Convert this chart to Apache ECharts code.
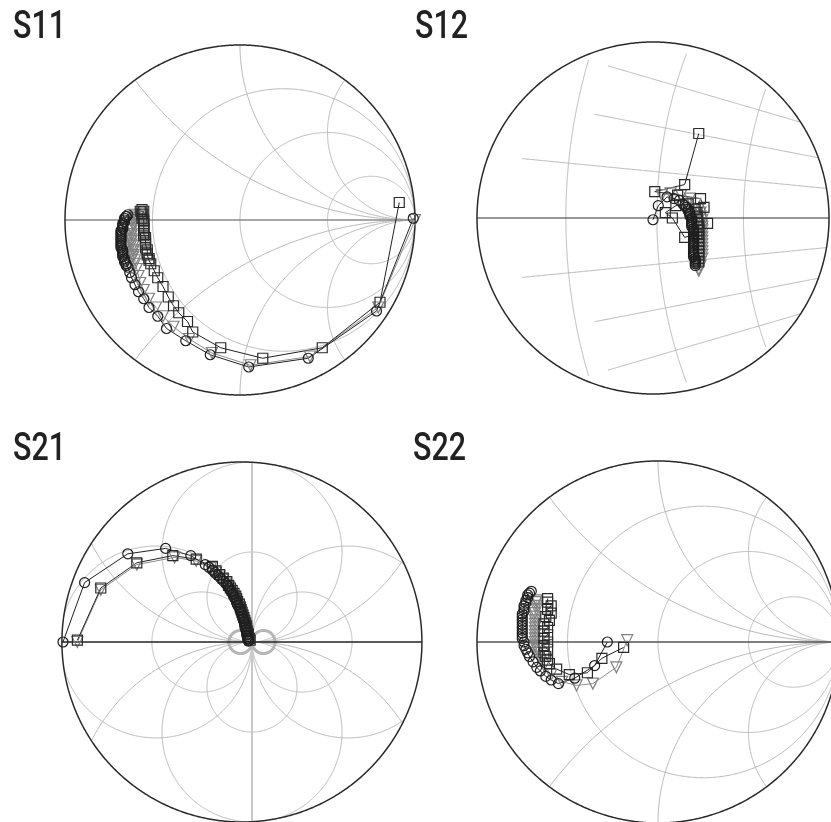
<!DOCTYPE html>
<html><head><meta charset="utf-8">
<script src="https://cdn.jsdelivr.net/npm/echarts@6/dist/echarts.min.js"></script>
<style>html,body{margin:0;padding:0;background:#fff}#c{width:831px;height:822px}</style>
</head><body><div id="c"></div>
<script>
// ---------------- DATA (normalised coefficients, [re, im]) ----------------
const S11_circ = [[0.99,0.01],[0.78,-0.52],[0.39,-0.79],[0.05,-0.84],[-0.17,-0.77],[-0.31,-0.69],[-0.42,-0.62],[-0.47,-0.55],[-0.52,-0.50],[-0.55,-0.45],[-0.58,-0.41],[-0.60,-0.37],[-0.62,-0.33],[-0.63,-0.30],[-0.64,-0.27],[-0.65,-0.26],[-0.65,-0.25],[-0.66,-0.24],[-0.66,-0.23],[-0.66,-0.22],[-0.67,-0.21],[-0.67,-0.20],[-0.67,-0.19],[-0.67,-0.18],[-0.67,-0.17],[-0.68,-0.16],[-0.68,-0.15],[-0.68,-0.14],[-0.68,-0.13],[-0.68,-0.12],[-0.68,-0.11],[-0.68,-0.10],[-0.68,-0.09],[-0.68,-0.08],[-0.68,-0.07],[-0.68,-0.06],[-0.67,-0.05],[-0.67,-0.04],[-0.67,-0.03],[-0.67,-0.02],[-0.66,-0.01],[-0.66,0.00],[-0.66,0.01],[-0.65,0.02],[-0.65,0.02],[-0.64,0.03]];
const S11_sq = [[0.91,0.10],[0.80,-0.47],[0.47,-0.73],[0.13,-0.79],[-0.11,-0.73],[-0.27,-0.64],[-0.30,-0.58],[-0.35,-0.53],[-0.38,-0.49],[-0.41,-0.44],[-0.44,-0.38],[-0.47,-0.33],[-0.49,-0.29],[-0.51,-0.25],[-0.52,-0.23],[-0.52,-0.22],[-0.53,-0.20],[-0.53,-0.19],[-0.53,-0.17],[-0.54,-0.16],[-0.54,-0.14],[-0.54,-0.13],[-0.54,-0.12],[-0.54,-0.10],[-0.55,-0.09],[-0.55,-0.08],[-0.55,-0.06],[-0.55,-0.05],[-0.55,-0.04],[-0.55,-0.02],[-0.55,-0.01],[-0.55,0.00],[-0.56,0.01],[-0.56,0.03],[-0.56,0.04],[-0.55,0.05],[-0.56,0.06],[-0.57,0.05]];
const S11_tri = [[1.0,0.0],[0.79,-0.50],[0.40,-0.78],[0.06,-0.83],[-0.16,-0.76],[-0.29,-0.68],[-0.38,-0.61],[-0.44,-0.55],[-0.48,-0.50],[-0.52,-0.45],[-0.55,-0.40],[-0.57,-0.36],[-0.58,-0.32],[-0.59,-0.28],[-0.60,-0.25],[-0.60,-0.23],[-0.61,-0.21],[-0.61,-0.20],[-0.61,-0.18],[-0.61,-0.17],[-0.61,-0.15],[-0.62,-0.14],[-0.62,-0.12],[-0.62,-0.11],[-0.62,-0.09],[-0.62,-0.08],[-0.62,-0.06],[-0.62,-0.05],[-0.61,-0.03],[-0.61,-0.02],[-0.61,0.00],[-0.61,0.01],[-0.60,0.02],[-0.60,0.03]];

const S12_circ = [[0.00,-0.01],[0.03,0.07],[0.08,0.12],[0.12,0.11],[0.15,0.10],[0.17,0.08],[0.18,0.07],[0.19,0.06],[0.20,0.05],[0.20,0.04],[0.21,0.03],[0.21,0.02],[0.21,0.01],[0.22,0.00],[0.22,-0.01],[0.22,-0.02],[0.22,-0.03],[0.22,-0.04],[0.22,-0.05],[0.23,-0.06],[0.23,-0.07],[0.23,-0.08],[0.23,-0.09],[0.23,-0.10],[0.23,-0.11],[0.23,-0.12],[0.23,-0.13],[0.23,-0.14],[0.23,-0.15],[0.23,-0.16],[0.23,-0.17],[0.23,-0.18],[0.23,-0.19],[0.23,-0.20],[0.23,-0.21],[0.23,-0.22],[0.24,-0.23],[0.24,-0.24],[0.24,-0.25],[0.24,-0.26],[0.24,-0.27]];
const S12_sq = [[0.26,0.48],[0.18,0.19],[0.01,0.15],[0.14,0.13],[0.27,0.11],[0.29,0.06],[0.31,-0.03],[0.25,-0.09],[0.18,-0.11],[0.11,0.00],[0.07,0.03],[0.13,0.07],[0.20,0.08],[0.24,0.05],[0.25,0.03],[0.25,0.01],[0.25,-0.01],[0.26,-0.03],[0.26,-0.05],[0.26,-0.07],[0.26,-0.09],[0.26,-0.11],[0.26,-0.13],[0.26,-0.15],[0.26,-0.17],[0.26,-0.19],[0.26,-0.21],[0.26,-0.23],[0.26,-0.25]];
const S12_tri = [[0.05,0.13],[0.10,0.14],[0.16,0.13],[0.21,0.11],[0.24,0.08],[0.26,0.05],[0.27,0.03],[0.27,0.01],[0.28,-0.01],[0.28,-0.03],[0.28,-0.05],[0.28,-0.07],[0.28,-0.09],[0.28,-0.11],[0.28,-0.13],[0.28,-0.15],[0.28,-0.17],[0.28,-0.19],[0.28,-0.21],[0.28,-0.23],[0.27,-0.25],[0.27,-0.27],[0.26,-0.29],[0.26,-0.30]];

const S21_circ = [[-1.05,0.0],[-0.93,0.33],[-0.69,0.49],[-0.48,0.52],[-0.34,0.48],[-0.26,0.43],[-0.24,0.415],[-0.22,0.40],[-0.205,0.385],[-0.19,0.37],[-0.175,0.355],[-0.16,0.34],[-0.145,0.325],[-0.135,0.31],[-0.125,0.295],[-0.115,0.28],[-0.105,0.265],[-0.10,0.25],[-0.09,0.235],[-0.085,0.22],[-0.08,0.205],[-0.07,0.19],[-0.065,0.175],[-0.06,0.16],[-0.055,0.145],[-0.05,0.13],[-0.045,0.115],[-0.04,0.10],[-0.04,0.085],[-0.035,0.07],[-0.03,0.055],[-0.03,0.04],[-0.025,0.03],[-0.025,0.02],[-0.02,0.01],[-0.02,0.005]];
const S21_sq = [[-0.97,0.01],[-0.84,0.30],[-0.64,0.44],[-0.44,0.48],[-0.31,0.46],[-0.22,0.42],[-0.20,0.395],[-0.18,0.375],[-0.16,0.355],[-0.14,0.335],[-0.13,0.315],[-0.12,0.30],[-0.11,0.285],[-0.10,0.27],[-0.09,0.255],[-0.085,0.24],[-0.08,0.225],[-0.07,0.21],[-0.065,0.195],[-0.06,0.18],[-0.055,0.165],[-0.05,0.15],[-0.045,0.135],[-0.04,0.12],[-0.035,0.105],[-0.03,0.09],[-0.03,0.075],[-0.025,0.06],[-0.02,0.045],[-0.02,0.03],[-0.015,0.02],[-0.01,0.01]];
const S21_tri = [[-0.97,0.0],[-0.84,0.29],[-0.64,0.43],[-0.43,0.47],[-0.31,0.45],[-0.23,0.41],[-0.20,0.385],[-0.18,0.365],[-0.16,0.345],[-0.145,0.325],[-0.13,0.305],[-0.12,0.285],[-0.11,0.265],[-0.10,0.245],[-0.09,0.225],[-0.08,0.205],[-0.07,0.185],[-0.065,0.165],[-0.055,0.145],[-0.05,0.125],[-0.045,0.105],[-0.04,0.085],[-0.035,0.065],[-0.03,0.045],[-0.025,0.03],[-0.02,0.015]];

const S22_circ = [[-0.28,0.0],[-0.35,-0.13],[-0.46,-0.20],[-0.55,-0.23],[-0.59,-0.21],[-0.62,-0.19],[-0.65,-0.16],[-0.67,-0.14],[-0.69,-0.11],[-0.71,-0.08],[-0.72,-0.06],[-0.73,-0.04],[-0.74,-0.02],[-0.74,0.00],[-0.75,0.02],[-0.75,0.035],[-0.75,0.05],[-0.75,0.065],[-0.75,0.08],[-0.75,0.095],[-0.75,0.11],[-0.75,0.125],[-0.75,0.14],[-0.75,0.155],[-0.74,0.17],[-0.74,0.185],[-0.74,0.20],[-0.73,0.215],[-0.73,0.23],[-0.72,0.245],[-0.72,0.26],[-0.71,0.27],[-0.70,0.28]];
const S22_sq = [[-0.19,-0.03],[-0.31,-0.09],[-0.39,-0.17],[-0.49,-0.18],[-0.56,-0.15],[-0.60,-0.12],[-0.61,-0.10],[-0.62,-0.08],[-0.63,-0.06],[-0.61,-0.04],[-0.63,-0.02],[-0.61,0.00],[-0.63,0.02],[-0.61,0.04],[-0.63,0.06],[-0.61,0.08],[-0.63,0.10],[-0.60,0.12],[-0.62,0.14],[-0.59,0.16],[-0.61,0.18],[-0.59,0.20],[-0.61,0.22],[-0.61,0.24]];
const S22_tri = [[-0.17,0.01],[-0.23,-0.14],[-0.36,-0.23],[-0.45,-0.24],[-0.53,-0.22],[-0.59,-0.18],[-0.63,-0.13],[-0.65,-0.10],[-0.66,-0.08],[-0.67,-0.06],[-0.67,-0.04],[-0.68,-0.02],[-0.68,0.00],[-0.68,0.02],[-0.68,0.04],[-0.68,0.06],[-0.68,0.08],[-0.68,0.10],[-0.68,0.12],[-0.68,0.14],[-0.68,0.16],[-0.67,0.18],[-0.67,0.20],[-0.67,0.22],[-0.67,0.23]];

// grid definitions
const smithR = [1/3, 1, 3];          // constant-resistance circles
const smithX = [0.5, 1, 2];          // constant-reactance arcs
const flowerV = [0.25, 0.5, 1.0];    // S21 circles centred on the vertical axis
const flowerH = [0.278, 0.533];      // S21 circles centred on the horizontal axis
const s12Rad = [[5.6,3.46],[11.0,3.09],[16.3,3.08]];     // S12 radial lines: angle (deg), start radius
const s12Arc = [[2.186,19.6],[2.678,20.4],[3.195,16.3]]; // S12 arcs: radius, half span (deg)
const S12_POLE = 2.70;

// ---------------- LAYOUT ----------------
const layout = [
  {key:'S11', cx:240, cy:220, s:175, tx:13, ty:9,   disk:{x:0,y:0,r:1}},
  {key:'S12', cx:653, cy:218, s:176, tx:415, ty:9,  disk:{x:0,y:0,r:1}},
  {key:'S21', cx:252, cy:642, s:180, tx:13, ty:431, disk:{x:-0.056,y:0,r:1}},
  {key:'S22', cx:658, cy:642, s:181, tx:413, ty:431,disk:{x:0,y:0,r:1}}
];
const RANGE = 1.15;
const GRID = '#b9b9b9', OUT = '#2a2a2a';

function circ(cx,cy,r,color,w,noclip){return {f:t=>[cx+r*Math.cos(t),cy+r*Math.sin(t)],t0:0,t1:2*Math.PI,color,w,noclip,n:720};}
function arc(cx,cy,r,a0,a1,color,w){return {f:t=>[cx+r*Math.cos(t),cy+r*Math.sin(t)],t0:a0,t1:a1,color,w,n:400};}
function seg(x1,y1,x2,y2,color,w){return {f:t=>[x1+(x2-x1)*t,y1+(y2-y1)*t],t0:0,t1:1,color,w,n:300};}

function smithPrims(hColor){
  const P=[];
  smithR.forEach(r=>P.push(circ(r/(1+r),0,1/(1+r),GRID,1)));
  smithX.forEach(x=>{P.push(circ(1,1/x,1/x,GRID,1));P.push(circ(1,-1/x,1/x,GRID,1));});
  P.push(seg(-1.05,0,1.05,0,hColor,1.3));
  P.push(circ(0,0,1,OUT,1.5,true));
  return P;
}
function s12Prims(){
  const P=[];
  s12Rad.forEach(([deg,r0])=>{[1,-1].forEach(sg=>{const a=Math.PI-sg*deg*Math.PI/180;
    P.push({f:t=>[S12_POLE+t*Math.cos(a),t*Math.sin(a)],t0:r0,t1:1.4,color:GRID,w:1,n:300});});});
  s12Arc.forEach(([r,deg])=>{const a=deg*Math.PI/180;P.push(arc(S12_POLE,0,r,Math.PI-a,Math.PI+a,GRID,1));});
  P.push(seg(-1.05,0,1.05,0,'#333',1.2));
  P.push(circ(0,0,1,OUT,1.5,true));
  return P;
}
function s21Prims(){
  const P=[];
  flowerV.forEach(r=>{P.push(circ(0,r,r,GRID,1));P.push(circ(0,-r,r,GRID,1));});
  flowerH.forEach(r=>{P.push(circ(r,0,r,GRID,1));P.push(circ(-r,0,r,GRID,1));});
  P.push(seg(0,-1.2,0,1.2,'#c8c8c8',2));
  P.push(circ(0.064,0,0.064,'#b5b5b5',3));
  P.push(circ(-0.064,0,0.064,'#b5b5b5',3));
  P.push(seg(-1.2,0,1.2,0,'#222',1.3));
  P.push(circ(-0.056,0,1,OUT,1.5,true));
  return P;
}
const prims = [smithPrims('#8a8a8a'), s12Prims(), s21Prims(), smithPrims('#555')];
const dataSets = [[S11_circ,S11_sq,S11_tri],[S12_circ,S12_sq,S12_tri],[S21_circ,S21_sq,S21_tri],[S22_circ,S22_sq,S22_tri]];

function makeRender(P, disk){
  const inside=(q)=>(q[0]-disk.x)**2+(q[1]-disk.y)**2<=disk.r*disk.r*1.000001;
  return function(params, api){
    const p=P[params.dataIndex];
    const runs=[]; let cur=null, prevT=null, prevIn=null;
    for(let i=0;i<=p.n;i++){
      const t=p.t0+(p.t1-p.t0)*i/p.n; const q=p.f(t);
      const ins=p.noclip?true:inside(q);
      if(i>0 && ins!==prevIn){
        let a=prevT,b=t;
        for(let k=0;k<30;k++){const m=(a+b)/2;if(inside(p.f(m))===prevIn)a=m;else b=m;}
        const qb=p.f(prevIn?a:b);
        if(prevIn){cur.push(qb);runs.push(cur);cur=null;} else {cur=[qb];}
      }
      if(ins){if(!cur)cur=[];cur.push(q);}
      prevT=t;prevIn=ins;
    }
    if(cur)runs.push(cur);
    return {type:'group',children:runs.filter(r=>r.length>1).map(r=>({type:'polyline',silent:true,
      shape:{points:r.map(q=>api.coord(q))},style:{fill:'none',stroke:p.color,lineWidth:p.w}}))};
  };
}

const grids=[], xAxes=[], yAxes=[], series=[], graphics=[];
layout.forEach((L,i)=>{
  grids.push({left:L.cx-RANGE*L.s, top:L.cy-RANGE*L.s, width:2*RANGE*L.s, height:2*RANGE*L.s,
    outerBoundsMode:'none', containLabel:false});
  xAxes.push({gridIndex:i,type:'value',min:-RANGE,max:RANGE,show:false});
  yAxes.push({gridIndex:i,type:'value',min:-RANGE,max:RANGE,show:false});
  series.push({type:'custom',xAxisIndex:i,yAxisIndex:i,data:prims[i].map(()=>[0,0]),
    renderItem:makeRender(prims[i],L.disk),silent:true,animation:false,clip:false,z:1});
  const [c,sq,tr]=dataSets[i];
  const common={type:'line',xAxisIndex:i,yAxisIndex:i,showAllSymbol:true,animation:false,silent:true,clip:false,z:3};
  series.push(Object.assign({},common,{name:L.key+' tri',data:tr,symbol:'triangle',symbolRotate:180,symbolSize:11,
    lineStyle:{color:'#8c8c8c',width:1},itemStyle:{color:'rgba(0,0,0,0)',borderColor:'#808080',borderWidth:1.2}}));
  series.push(Object.assign({},common,{name:L.key+' sq',data:sq,symbol:'rect',symbolSize:10,
    lineStyle:{color:'#222',width:1},itemStyle:{color:'rgba(0,0,0,0)',borderColor:'#2a2a2a',borderWidth:1.2}}));
  series.push(Object.assign({},common,{name:L.key+' circ',data:c,symbol:'circle',symbolSize:10,
    lineStyle:{color:'#222',width:1},itemStyle:{color:'rgba(0,0,0,0)',borderColor:'#1e1e1e',borderWidth:1.2}}));
  graphics.push({type:'text',x:L.tx,y:L.ty,scaleX:0.8,silent:true,
    style:{text:L.key,font:'500 38px Roboto, "DejaVu Sans", sans-serif',fill:'#222',textVerticalAlign:'top'}});
});

const chart=echarts.init(document.getElementById('c'),null,{renderer:'canvas'});
chart.setOption({backgroundColor:'#fff',animation:false,grid:grids,xAxis:xAxes,yAxis:yAxes,series,graphic:graphics});
</script></body></html>
